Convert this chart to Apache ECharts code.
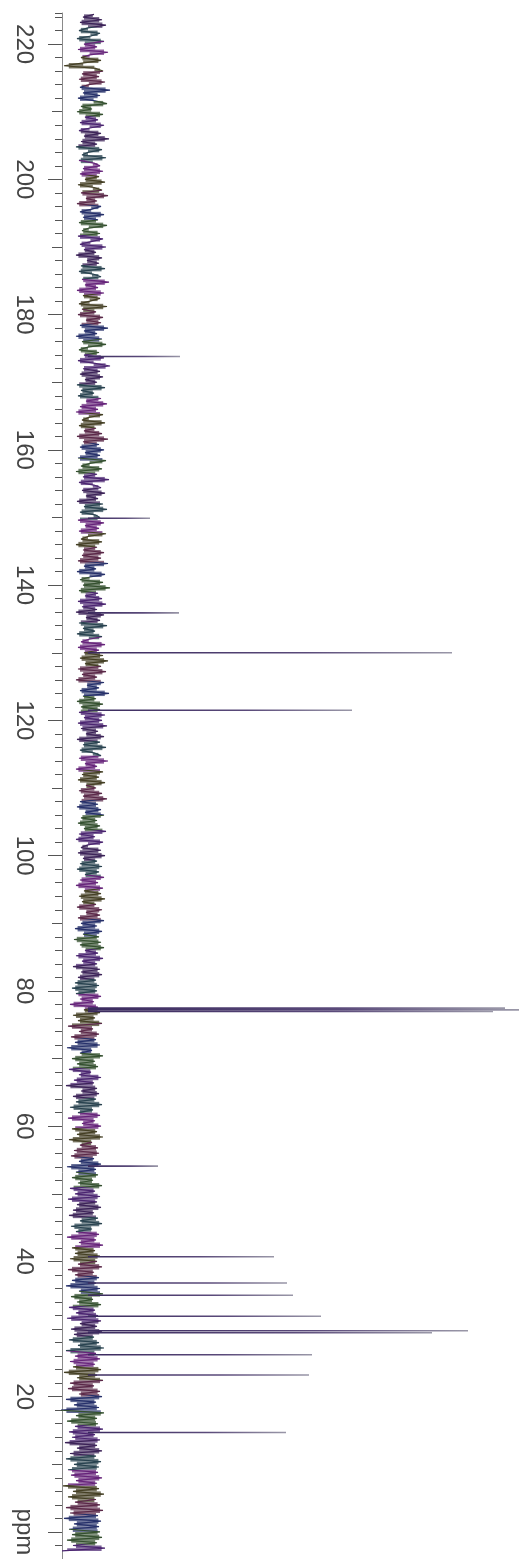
<!DOCTYPE html>
<html>
<head>
<meta charset="utf-8">
<script src="https://cdn.jsdelivr.net/npm/echarts@6/dist/echarts.min.js"></script>
<style>
html,body{margin:0;padding:0;background:#fff;}
#chart{width:520px;height:1559px;}
</style>
</head>
<body>
<div id="chart"></div>
<script>
// ppm tick labels (0 is shown as the unit "ppm")
const majorTicks = [0, 20, 40, 60, 80, 100, 120, 140, 160, 180, 200, 220];
const midTicks = [10, 30, 50, 70, 90, 110, 130, 150, 170, 190, 210];

// Peaks: chemical shift (ppm) and intensity (arbitrary units)
const peakPpm    = [173.8, 149.9, 135.9, 130.0, 121.5, 77.45, 77.2, 76.95, 54.1, 40.7, 36.8, 35.0, 31.9, 29.75, 29.45, 26.2, 23.2, 14.7];
const peakHeight = [92,    62,    91,    364,   264,   417,   431,  405,   70,   186,  199,  205,  233,  380,   344,   224,  221,  198];

// Baseline noise, sampled every 0.4 ppm starting at 224.4 ppm
const noiseStartPpm = 224.4;
const noiseStepPpm = 0.4;
const noiseValues = [
 6,-5,14,-8,18,0,-9,12,3,-11,16,-4,9,-10,20,2,-7,13,-6,-24,
 8,15,-6,11,-9,17,1,-8,22,-5,12,-10,7,19,-7,4,-11,15,-3,10,
 -8,16,2,-9,13,-4,21,-7,9,-12,14,0,-6,18,-9,6,12,-5,15,-8,
 11,-3,17,-10,6,14,-7,20,-2,9,-11,13,4,-8,16,-5,10,-9,19,1,
 -6,12,-10,15,3,-8,18,-4,8,-12,14,-1,11,-7,17,-9,5,13,-6,21,
 -3,10,-11,16,-5,12,2,-9,19,-6,8,-10,15,-2,13,-8,20,-4,9,-12,
 14,-6,18,0,-9,11,-4,16,-10,7,22,-5,12,-8,15,-3,9,-11,17,-7,
 6,-10,13,-2,19,-8,10,-12,15,1,-6,17,-9,8,-4,14,-11,20,-5,11,
 -8,16,-3,12,-10,18,2,-7,14,-12,9,-5,21,-9,6,13,-6,17,-2,10,
 -11,15,-4,19,-8,7,12,-10,16,-3,11,-9,18,0,-7,14,-12,9,-5,16,
 -6,13,-10,20,-4,8,-11,17,2,-8,15,-5,22,-9,10,-3,14,-10,18,-6,
 9,-12,16,-2,12,-9,19,-5,7,-11,14,1,-7,17,-10,11,-4,15,-8,20,
 -3,13,-10,18,-6,9,-12,16,-1,11,-8,21,-5,8,-11,15,-7,12,-9,17,
 -4,14,-10,19,-7,10,-2,16,-11,12,-5,18,-8,6,13,-9,20,-3,9,-12,
 15,-6,11,-10,17,-2,8,-9,14,-5,19,-8,10,-11,13,-3,16,-7,9,-10,
 12,-4,18,-9,7,-12,15,0,-7,13,-10,17,-5,9,-8,14,-11,11,-3,16,
 -8,10,-12,15,-4,13,-9,17,-6,8,-11,14,-2,12,-10,16,-7,9,-13,14,
 -5,11,-14,13,-8,16,-3,10,-12,15,-6,9,-15,12,-7,14,-10,8,-13,11,
 -16,9,-12,13,-8,6,-18,10,-4,12,-15,7,-10,14,-20,5,-9,11,-17,8,
 -13,12,-21,4,-8,15,-16,7,-11,10,-19,3,-9,13,-14,6,-22,9,-7,11,
 -15,8,-12,14,-18,5,-10,12,-20,7,-6,13,-16,9,-11,15,-19,4,-8,10,
 -14,11,-17,6,-9,13,-21,8,-12,10,-16,5,-10,14,-18,7,-13,12,-20,9,
 -11,13,-15,6,-19,10,-8,14,-17,4,-12,11,-21,8,-9,15,-16,7,-13,12,
 -18,9,-10,14,-20,6,-13,11,-16,8,-22,12,-9,15,-17,5,-11,13,-19,7,
 -12,10,-21,13,-8,9,-17,14,-14,6,-19,11,-10,16,-22,8,-13,12,-18,7,
 -15,13,-24,9,-11,15,-18,6,-20,12,-9,14,-22,8,-14,11,-27,16,-12,9,
 -21,10,-13,15,-19,7,-16,12,-23,9,-11,14,-18,8,-22,13,-14,11,-20,10,
 -17,14,-12,9,-25,11,-15,16,-20,8,-13,12,-22,15,-18,10,-24,13,-14,11,
 -19,12,-16,14,-21,9,-15,17,-26
];

const noiseData = noiseValues.map((v, i) => [v, +(noiseStartPpm - i * noiseStepPpm).toFixed(2)]);
const peakData = peakPpm.map((p, i) => [peakHeight[i], p]);

// colour bands for the multi-coloured scanned trace
const bandColors = ['#4a2470', '#34502f', '#26306a', '#5a2848', '#443f24', '#66247a', '#28424f', '#3c2358'];
const bandWidth = 2.2;
const pieces = [];
for (let k = 0, v = -4; v < 226; v += bandWidth, k++) {
  pieces.push({ gte: v, lt: v + bandWidth, color: bandColors[k % bandColors.length] });
}
function bandColor(ppm) {
  const k = Math.floor((ppm + 4) / bandWidth);
  return bandColors[((k % bandColors.length) + bandColors.length) % bandColors.length];
}

const chart = echarts.init(document.getElementById('chart'), null, { renderer: 'canvas' });

const yBase = { type: 'value', min: -4, max: 224.6, position: 'left', offset: 0, splitLine: { show: false } };

chart.setOption({
  animation: false,
  backgroundColor: '#ffffff',
  grid: { left: 62, top: 13, width: 458, height: 1554.5, containLabel: false },
  xAxis: { type: 'value', min: -26, max: 432, show: false },
  yAxis: [
    Object.assign({}, yBase, {
      interval: 2,
      axisLine: { show: true, onZero: false, lineStyle: { color: '#8a8a8a', width: 1 } },
      axisTick: { show: true, length: 7, lineStyle: { color: '#555', width: 1 } },
      axisLabel: { show: false }
    }),
    Object.assign({}, yBase, {
      axisLine: { show: false, onZero: false },
      axisTick: { show: true, length: 10, customValues: midTicks, lineStyle: { color: '#555', width: 1 } },
      axisLabel: { show: false }
    }),
    Object.assign({}, yBase, {
      axisLine: { show: false, onZero: false },
      axisTick: { show: true, length: 14, customValues: majorTicks, lineStyle: { color: '#555', width: 1 } },
      axisLabel: {
        show: true, customValues: majorTicks, rotate: -90, margin: 26,
        fontFamily: 'Liberation Sans', fontSize: 24, color: '#444',
        formatter: v => (v === 0 ? 'ppm' : String(v))
      }
    })
  ],
  visualMap: { type: 'piecewise', show: false, dimension: 1, seriesIndex: 1, pieces: pieces },
  series: [
    {
      // filled envelope of the dense noise band (span between consecutive samples)
      type: 'custom', xAxisIndex: 0, yAxisIndex: 0, z: 1,
      encode: { x: 0, y: 1 },
      data: noiseData,
      renderItem: function (params, api) {
        const i = params.dataIndex;
        if (i >= noiseData.length - 1) return null;
        const a = noiseData[i], b = noiseData[i + 1];
        const lo = Math.min(a[0], b[0]) * 0.8, hi = Math.max(a[0], b[0]) * 0.8;
        return {
          type: 'polygon',
          shape: { points: [api.coord([lo, a[1]]), api.coord([hi, a[1]]), api.coord([hi, b[1]]), api.coord([lo, b[1]])] },
          style: { fill: bandColor(a[1]), opacity: 0.72 }
        };
      }
    },
    {
      type: 'line', xAxisIndex: 0, yAxisIndex: 0,
      data: noiseData, showSymbol: false, symbol: 'none',
      lineStyle: { width: 1.2 }, sampling: null, z: 2
    },
    {
      type: 'custom', xAxisIndex: 0, yAxisIndex: 0, z: 3,
      encode: { x: 0, y: 1 },
      data: peakData,
      renderItem: function (params, api) {
        const p0 = api.coord([0, api.value(1)]);
        const p1 = api.coord([api.value(0), api.value(1)]);
        return {
          type: 'line',
          shape: { x1: p0[0], y1: p0[1], x2: p1[0], y2: p1[1] },
          style: {
            stroke: new echarts.graphic.LinearGradient(0, 0, 1, 0, [
              { offset: 0, color: '#3a2a5e' },
              { offset: 0.6, color: '#5a4a7a' },
              { offset: 1, color: '#9a98a8' }
            ]),
            lineWidth: 1.6
          }
        };
      }
    }
  ]
});
</script>
</body>
</html>
